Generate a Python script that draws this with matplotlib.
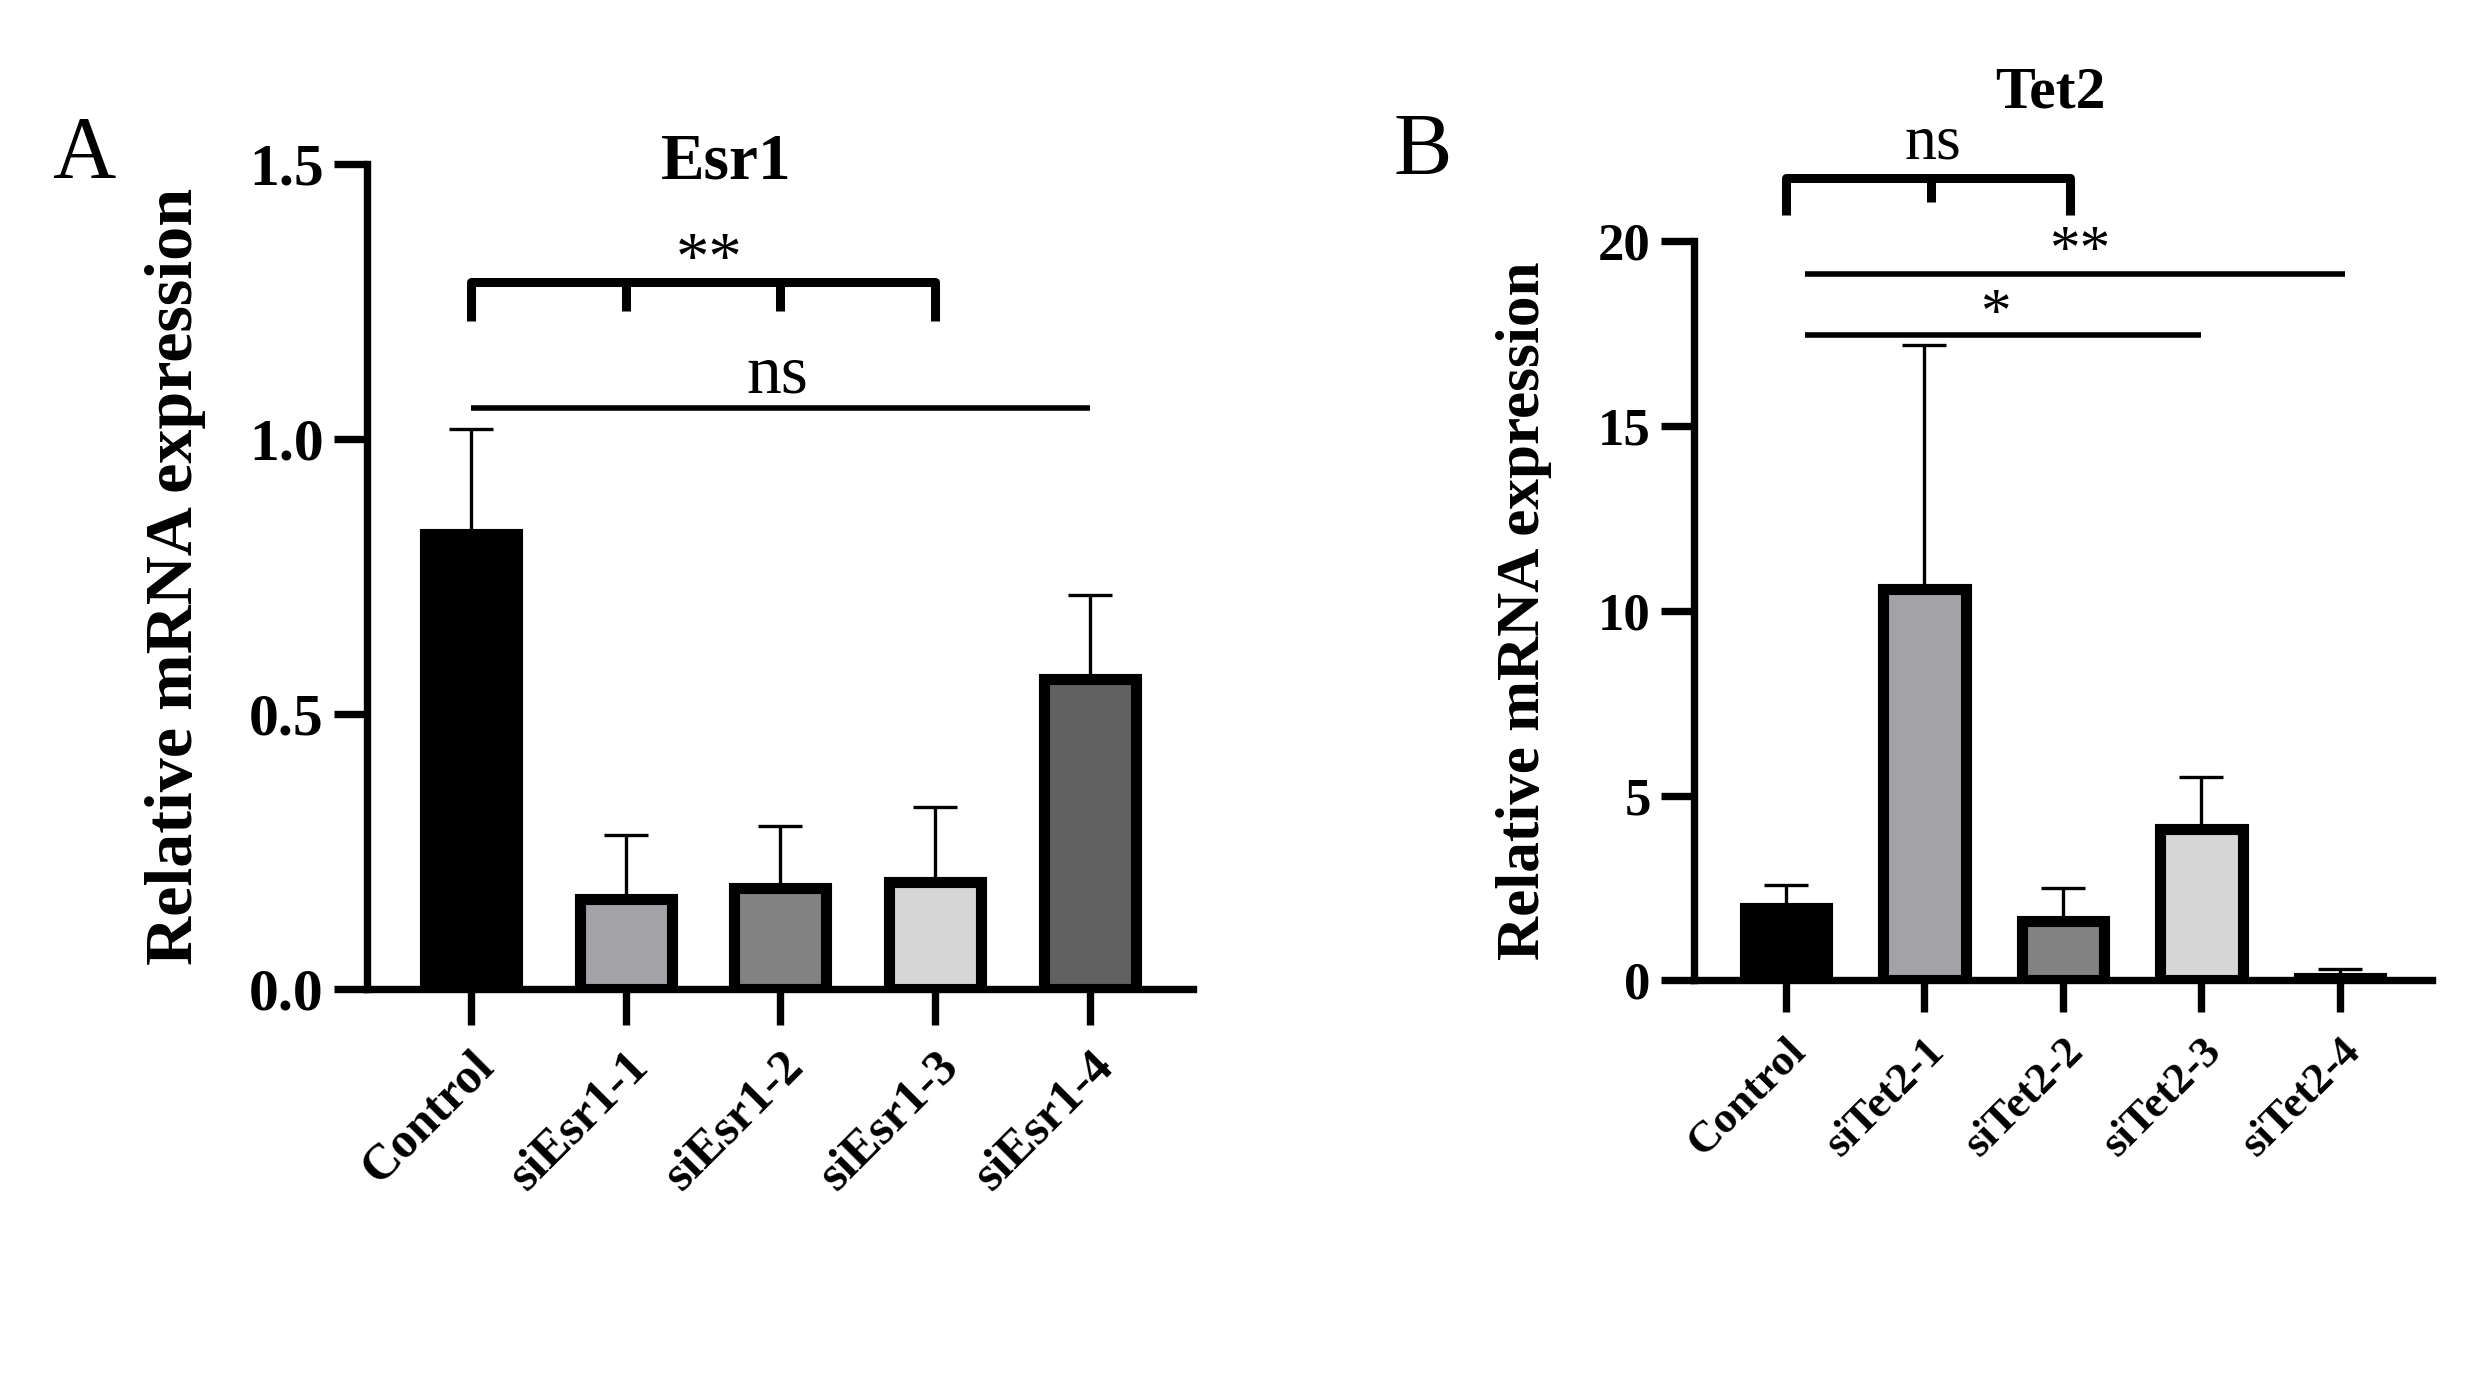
import numpy as np
import matplotlib.pyplot as plt

# --- data ---
esr1_groups = ["Control", "siEsr1-1", "siEsr1-2", "siEsr1-3", "siEsr1-4"]
esr1_mean = [0.828, 0.163, 0.183, 0.195, 0.563]
esr1_err = [0.19, 0.117, 0.114, 0.136, 0.154]

tet2_groups = ["Control", "siTet2-1", "siTet2-2", "siTet2-3", "siTet2-4"]
tet2_mean = [1.95, 10.6, 1.62, 4.09, 0.08]
tet2_err = [0.63, 6.59, 0.89, 1.4, 0.23]

bar_colors = ["#000000", "#a3a3a7", "#828282", "#d6d6d6", "#616161"]

plt.rcParams["font.family"] = ["Liberation Serif", "DejaVu Serif"]

fig = plt.figure(figsize=(24.71, 13.74), dpi=100)
axA = fig.add_axes([0.1485, 0.2802, 0.3344, 0.6004])
axB = fig.add_axes([0.6855, 0.2864, 0.2988, 0.5382])


def draw_panel(ax, groups, mean, err, ylim, yticks, ytlabels, xlim,
               ytsize, xtsize, ylsize, ylx, xtlen):
    x = np.arange(len(groups))
    ax.errorbar(x, mean, yerr=[np.zeros(len(err)), err], fmt="none",
                ecolor="black", elinewidth=2.4, capsize=16, capthick=2.4, zorder=1)
    ax.bar(x, mean, width=0.595, color=bar_colors, edgecolor="black",
           linewidth=8, zorder=2)
    ax.set_ylim(*ylim)
    ax.set_xlim(*xlim)
    ax.set_yticks(yticks)
    ax.set_yticklabels(ytlabels, fontsize=ytsize, fontweight="bold")
    ax.set_xticks(x)
    ax.set_xticklabels(groups, rotation=45, ha="right", rotation_mode="anchor",
                       fontsize=xtsize, fontweight="bold")
    for s in ["top", "right"]:
        ax.spines[s].set_visible(False)
    for s in ["left", "bottom"]:
        ax.spines[s].set_linewidth(5.3)
        ax.spines[s].set_zorder(3)
    ax.tick_params(axis="y", length=24, width=5.3, pad=7)
    ax.tick_params(axis="x", length=xtlen, width=5.3, pad=13)
    ax.set_ylabel("Relative mRNA expression", fontsize=ylsize, fontweight="bold")
    ax.yaxis.set_label_coords(ylx, 0.5)


draw_panel(axA, esr1_groups, esr1_mean, esr1_err, (0, 1.5), [0, 0.5, 1.0, 1.5],
           ["0.0", "0.5", "1.0", "1.5"], (-0.672, 4.668), 43, 36, 49, -0.195, 26)
draw_panel(axB, tet2_groups, tet2_mean, tet2_err, (0, 20), [0, 5, 10, 15, 20],
           ["0", "5", "10", "15", "20"], (-0.664, 4.667), 38, 32, 44, -0.192, 23)

axA.text(1.65, 1.474, "Esr1", ha="center", va="baseline", fontsize=47,
         fontweight="bold", clip_on=False)
axB.text(1.91, 23.6, "Tet2", ha="center", va="baseline", fontsize=43,
         fontweight="bold", clip_on=False)

fig.text(0.021, 0.871, "A", fontsize=63, va="baseline")
fig.text(0.564, 0.873, "B", fontsize=63, va="baseline")

# --- significance annotations ---
kw = dict(color="black", clip_on=False, solid_capstyle="butt")

# Esr1: Control vs siEsr1-1..3 bracket
axA.plot([0, 0, 3, 3], [1.215, 1.285, 1.285, 1.215], lw=6.5, **kw)
for t in [1, 2]:
    axA.plot([t, t], [1.285, 1.232], lw=6.5, **kw)
axA.text(1.54, 1.268, "**", ha="center", va="bottom", fontsize=48)
# Esr1: Control vs siEsr1-4
axA.plot([0, 4], [1.057, 1.057], lw=4, **kw)
axA.text(1.98, 1.058, "ns", ha="center", va="bottom", fontsize=50)

# Tet2: Control vs siTet2-1..2 bracket
axB.plot([0, 0, 2.05, 2.05], [20.7, 21.7, 21.7, 20.7], lw=6.5, **kw)
axB.plot([1.05, 1.05], [21.7, 21.06], lw=6.5, **kw)
axB.text(1.06, 21.85, "ns", ha="center", va="bottom", fontsize=46)
# Tet2: Control vs siTet2-4
axB.plot([0.14, 4.04], [19.1, 19.1], lw=4, **kw)
axB.text(2.12, 18.94, "**", ha="center", va="bottom", fontsize=44)
# Tet2: Control vs siTet2-3
axB.plot([0.14, 3.0], [17.45, 17.45], lw=4, **kw)
axB.text(1.51, 17.23, "*", ha="center", va="bottom", fontsize=44)

fig.savefig("out.png", dpi=100)
